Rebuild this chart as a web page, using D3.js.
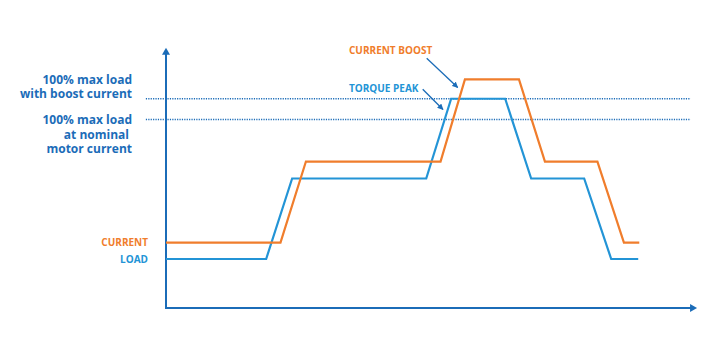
<!DOCTYPE html>
<html><head><meta charset="utf-8">
<script src="https://cdn.jsdelivr.net/npm/d3@7/dist/d3.min.js"></script>
<style>body{margin:0;background:#fff}svg{display:block}text{font-family:"Open Sans",sans-serif;font-weight:700}</style>
</head><body><svg id="c" width="720" height="360"></svg>
<script>
// time (0-100) and level (% of max load at nominal motor current)
const loadTime    = [0, 18.9, 23.8, 49.1, 53.8, 64.0, 68.9, 78.9, 84.0, 89.1];
const loadLevel   = [26, 26, 68.7, 68.7, 111, 111, 68.7, 68.7, 26, 26];
const currentTime = [0, 21.6, 26.4, 51.8, 56.4, 66.6, 71.5, 81.4, 86.4, 89.3];
const currentLevel= [34.7, 34.7, 77.7, 77.7, 121.3, 121.3, 77.7, 77.7, 34.7, 34.7];
const refLevels   = [111, 100];
const refLabels   = ["100% max load","with boost current","100% max load","at nominal","motor current"];
const seriesLabels= ["CURRENT","LOAD"];
const annotations = ["CURRENT BOOST","TORQUE PEAK"];

const svg = d3.select("#c");
const x = d3.scaleLinear().domain([0,100]).range([166,696]);
const y = d3.scaleLinear().domain([0,100]).range([308,119.5]);
const axisC="#1b6cb8", blue="#2394d6", orange="#f07d2c";

// reference dotted lines
svg.selectAll(".ref").data(refLevels).join("line")
  .attr("x1",x(-3.8)).attr("x2",x(99)).attr("y1",d=>y(d)).attr("y2",d=>y(d))
  .attr("stroke",axisC).attr("stroke-width",1.6).attr("stroke-dasharray","1.2 1.2");

// axes
svg.append("line").attr("x1",x(0)).attr("x2",x(0)).attr("y1",y(0)+1).attr("y2",y(136)).attr("stroke",axisC).attr("stroke-width",2);
svg.append("line").attr("x1",x(0)-1).attr("x2",x(99.3)).attr("y1",y(0)).attr("y2",y(0)).attr("stroke",axisC).attr("stroke-width",2);
svg.append("path").attr("d",`M${x(0)},${y(138)} l-4,7 l8,0 z`).attr("fill",axisC);
svg.append("path").attr("d",`M${x(100.2)},${y(0)} l-7,-4 l0,8 z`).attr("fill",axisC);

const line = d3.line().x(d=>x(d[0])).y(d=>y(d[1]));
svg.append("path").datum(d3.zip(loadTime,loadLevel)).attr("d",line).attr("fill","none").attr("stroke",blue).attr("stroke-width",2.2);
svg.append("path").datum(d3.zip(currentTime,currentLevel)).attr("d",line).attr("fill","none").attr("stroke",orange).attr("stroke-width",2.2);

// left labels
const labY=[83.5,97.7,124,138.5,152.7], labX=[132,132,132,129,132];
svg.selectAll(".lab").data(refLabels).join("text")
  .attr("x",(d,i)=>labX[i]).attr("y",(d,i)=>labY[i]).attr("text-anchor","end")
  .attr("font-size",12).attr("fill",axisC).text(d=>d);

// series labels
svg.append("text").attr("x",148).attr("y",y(currentLevel[0])+3.6).attr("text-anchor","end").attr("font-size",10).attr("fill",orange).text(seriesLabels[0]);
svg.append("text").attr("x",148).attr("y",y(loadLevel[0])+3.6).attr("text-anchor","end").attr("font-size",10).attr("fill",blue).text(seriesLabels[1]);

// annotations
svg.append("text").attr("x",349).attr("y",54).attr("font-size",10).attr("fill",orange).text(annotations[0]);
svg.append("text").attr("x",349).attr("y",91.7).attr("font-size",10).attr("fill",blue).text(annotations[1]);
const defs=svg.append("defs");
defs.append("marker").attr("id","ah").attr("viewBox","0 0 10 10").attr("refX",9).attr("refY",5).attr("markerWidth",6).attr("markerHeight",6).attr("orient","auto").attr("markerUnits","userSpaceOnUse")
  .append("path").attr("d","M0,0 L10,5 L0,10 z").attr("fill",axisC);
svg.append("line").attr("x1",426.7).attr("y1",58.3).attr("x2",457.7).attr("y2",87.5).attr("stroke",axisC).attr("stroke-width",1.3).attr("marker-end","url(#ah)");
svg.append("line").attr("x1",422.7).attr("y1",89.3).attr("x2",443).attr("y2",109.5).attr("stroke",axisC).attr("stroke-width",1.3).attr("marker-end","url(#ah)");
</script></body></html>
